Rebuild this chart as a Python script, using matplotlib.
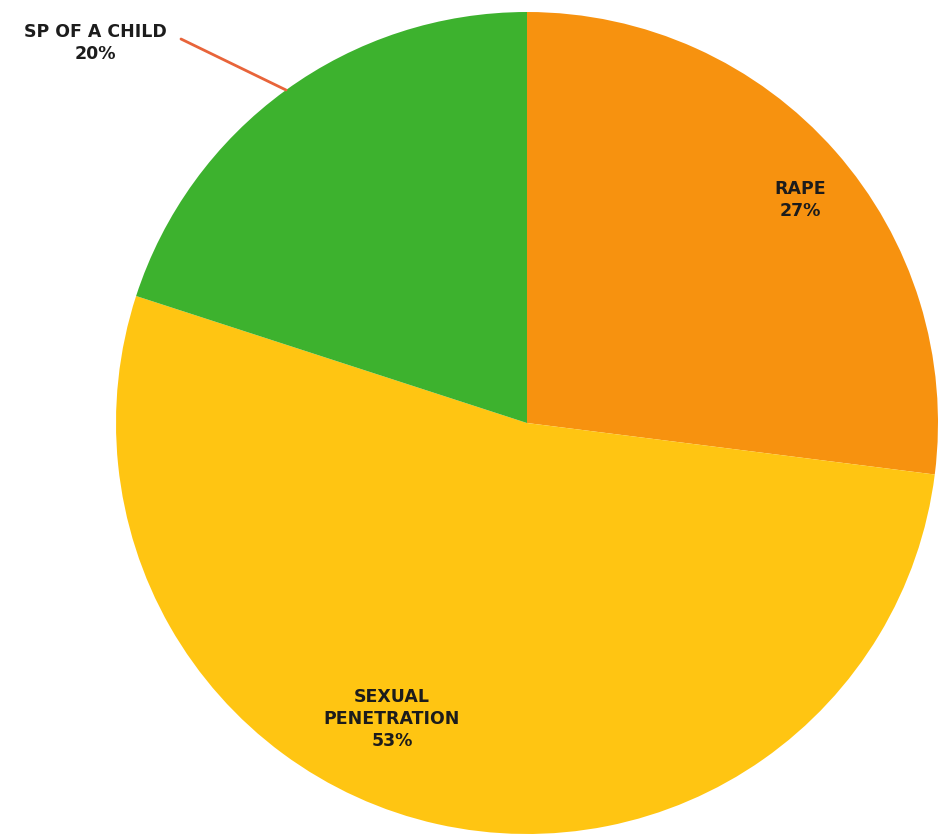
import matplotlib.pyplot as plt

labels = ["RAPE", "SEXUAL\nPENETRATION", "SP OF A CHILD"]
shares = [27, 53, 20]
colors = ["#F7920F", "#FFC512", "#3DB22E"]

fig = plt.figure(figsize=(9.38, 8.39), dpi=100)
ax = fig.add_axes([0, 0, 1, 1])

ax.pie(shares, colors=colors, startangle=90, counterclock=False,
       center=(527, 416), radius=411, frame=True,
       wedgeprops=dict(linewidth=0))

ax.set_xlim(0, 938)
ax.set_ylim(0, 839)
ax.set_aspect("equal")
ax.axis("off")

font = dict(ha="center", va="center", fontsize=12.5, fontweight="bold",
            color="#1c1c1c", linespacing=1.25, family="DejaVu Sans")

label_pos = [(800, 639), (392, 120), (95, 796)]
for lab, val, (x, y) in zip(labels, shares, label_pos):
    ax.text(x, y, f"{lab}\n{val}%", **font)

# leader line for the small slice
ax.plot([181, 286], [800, 749], color="#E8643A", linewidth=2,
        solid_capstyle="round")

fig.savefig("out.png", dpi=100)
